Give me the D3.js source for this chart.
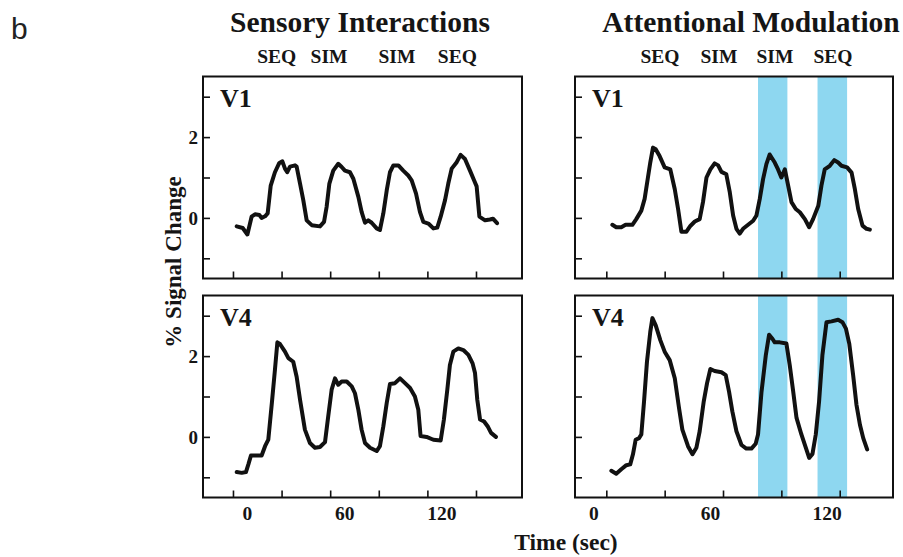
<!DOCTYPE html>
<html>
<head>
<meta charset="utf-8">
<script src="https://cdn.jsdelivr.net/npm/d3@7"></script>
<style>
  html, body { margin: 0; padding: 0; background: #fff; }
  svg { display: block; }
  .serif { font-family: "Liberation Serif", "Times New Roman", serif !important; font-weight: bold; fill: #151515; }
</style>
</head>
<body>
<svg id="fig" width="903" height="557"></svg>
<script>
// ---- data: % signal change over time (sec), [time, value] pairs ----
const sensoryV1 = [
  [2.3,-0.21],[6,-0.25],[8.9,-0.41],[11.5,0.03],[13.6,0.09],[16.3,0.07],[17.7,0],[19.8,0.04],
  [21.4,0.11],[23.3,0.8],[25.9,1.13],[28.6,1.36],[30.5,1.4],[32.1,1.22],[33.5,1.13],[35.2,1.27],
  [38.3,1.3],[39.3,1.27],[41.4,0.85],[43.4,0.44],[45.5,-0.06],[48.6,-0.18],[53.7,-0.21],[56.2,-0.1],
  [57.8,0.27],[59.5,0.85],[61.9,1.17],[65,1.34],[67.1,1.26],[69.1,1.17],[72.2,1.13],[74.3,0.97],
  [77.4,0.52],[79.4,0.15],[81.5,-0.12],[83.5,-0.06],[85.6,-0.12],[88.7,-0.26],[90.7,-0.3],[92.8,0.11],
  [94.9,0.68],[96.9,1.13],[99,1.3],[102.1,1.3],[105.1,1.17],[108.2,1.05],[110.3,0.93],[113,0.6],
  [115.4,0.15],[117.5,-0.1],[120.6,-0.14],[123.7,-0.26],[126.1,-0.24],[128.2,0.03],[130.9,0.44],
  [132.9,0.85],[135,1.22],[138.1,1.38],[140.5,1.56],[143.2,1.46],[146.3,1.17],[148.8,0.93],
  [150.4,0.78],[152.1,0.03],[155.6,-0.06],[158.6,-0.04],[160.5,-0.02],[163,-0.13]
];
const sensoryV4 = [
  [2.3,-0.87],[5.4,-0.89],[8,-0.87],[9.5,-0.68],[11.1,-0.46],[13.6,-0.46],[17.7,-0.46],[19.8,-0.23],
  [21.8,-0.07],[24,0.84],[25.9,1.66],[27.4,2.34],[29,2.3],[32.1,2.11],[34.2,1.95],[37.2,1.86],
  [39.3,1.49],[41.4,0.92],[44.4,0.18],[47.5,-0.15],[50.6,-0.27],[53.7,-0.25],[56.8,-0.13],[58.8,0.51],
  [60.9,1.17],[63,1.45],[65,1.29],[67.1,1.37],[70.2,1.37],[73.3,1.25],[75.3,1.08],[77.4,0.67],
  [79.4,0.18],[81.5,-0.15],[84.6,-0.27],[88.7,-0.35],[90.7,-0.23],[92.8,0.26],[94.9,0.84],[96.9,1.31],
  [100,1.33],[103.1,1.45],[106.2,1.33],[109.3,1.21],[112.3,1.0],[114.4,0.67],[115.8,0.02],[119.5,0],
  [123.7,-0.07],[128.2,-0.09],[130.2,0.43],[132.3,1.17],[133.9,1.78],[136,2.11],[139.1,2.19],
  [142.2,2.15],[145.3,2.03],[147.9,1.82],[149.4,1.58],[150.8,0.92],[152.5,0.43],[155,0.38],
  [157.4,0.25],[159.3,0.1],[162.3,0.0]
];
const attendV1 = [
  [3.1,-0.17],[5.1,-0.23],[7.7,-0.23],[9.9,-0.17],[13.4,-0.17],[15.4,-0.03],[18,0.18],[19.7,0.47],
  [21.4,1.0],[22.6,1.37],[24,1.74],[25.4,1.7],[27.4,1.53],[30,1.25],[32.9,1.2],[35.2,0.71],
  [36.9,0.22],[38.6,-0.34],[41.2,-0.34],[43.2,-0.2],[45.5,-0.09],[48,-0.03],[49.7,0.39],[51.5,1.0],
  [53.5,1.2],[55.7,1.35],[57.5,1.3],[59.2,1.14],[61.7,1.08],[63.5,0.63],[65.2,0.06],[66.9,-0.27],
  [68.6,-0.39],[70.3,-0.27],[72.9,-0.17],[75.5,-0.07],[77.2,0.06],[78.9,0.47],[80.6,0.96],[82.3,1.33],
  [84,1.57],[86.6,1.37],[88.3,1.2],[90,1.0],[91.8,1.2],[93.5,0.8],[95.2,0.39],[97.4,0.22],
  [99.5,0.14],[102.1,-0.03],[104.3,-0.23],[106.3,-0.03],[109,0.3],[110.6,0.8],[112.3,1.2],
  [114.9,1.29],[117.2,1.43],[119.2,1.37],[120.9,1.29],[123.8,1.25],[126.1,1.12],[127.8,0.71],
  [129.5,0.22],[131.7,-0.19],[133.8,-0.27],[135.5,-0.29]
];
const attendV4 = [
  [2.6,-0.84],[5.1,-0.91],[7.7,-0.8],[10.3,-0.7],[12.3,-0.68],[13.7,-0.43],[15.1,-0.07],[16.8,-0.03],
  [18,0.06],[19.4,0.88],[20.9,1.86],[22.6,2.6],[23.7,2.94],[25.4,2.76],[27.8,2.39],[30,2.11],
  [32.6,1.9],[35.2,1.45],[37.4,0.71],[39.1,0.18],[42,-0.23],[44.3,-0.43],[46.3,-0.27],[48,0.14],
  [50.1,0.88],[51.8,1.33],[53.5,1.68],[55.7,1.63],[59.2,1.6],[61.4,1.53],[63.1,1.12],[64.8,0.63],
  [66.9,0.14],[69.5,-0.2],[72,-0.29],[74.6,-0.29],[76.8,-0.17],[78,0.06],[79.8,1.12],[82,2.02],
  [83.7,2.53],[85.4,2.43],[86.6,2.34],[89.2,2.34],[92.6,2.31],[94.3,1.78],[96.1,1.12],[97.8,0.47],
  [100.3,0.06],[102.6,-0.27],[104.3,-0.52],[106,-0.42],[107.7,0.06],[109.4,0.88],[111.1,2.02],
  [113.2,2.84],[115.8,2.86],[119.2,2.9],[121.4,2.84],[123.2,2.68],[124.9,2.31],[126.9,1.53],
  [128.6,0.8],[130.4,0.3],[132.1,-0.03],[134.1,-0.31]
];

// attended stimulus windows (sec), shaded in the attention panels
const attendWindows = [[78, 93.1], [108.6, 123.8]];

// condition labels above each column, placed at their block times (sec)
const conditions = ["SEQ", "SIM", "SIM", "SEQ"];
const sensoryCondTimes = [27, 59.3, 101.2, 138.5];
const attendCondTimes = [27.6, 57.9, 86.7, 116.5];

// axis ticks
const yTicks = [-1, 0, 1, 2, 3];
const yTickLabels = [0, 2];
const sensoryXTicks = [0, 30, 60, 90, 120, 150];
const attendXTicks = [0, 30, 60, 90, 120];
const xTickLabels = [0, 60, 120];

const columnTitles = ["Sensory Interactions", "Attentional Modulation"];
const areaNames = ["V1", "V4"];

// ---- layout ----
const svg = d3.select("#fig");
const rows = [[76.5, 278.5], [295.5, 497.5]];
const cols = [
  { x0: 203, x1: 522, domain: [-18.5, 178.4], ticks: sensoryXTicks, labelShift: 14,
    condTimes: sensoryCondTimes, title: columnTitles[0], titleX: 360, yLabels: true,
    series: [sensoryV1, sensoryV4], bands: [] },
  { x0: 575, x1: 893, domain: [-16.1, 147.4], ticks: attendXTicks, labelShift: -13,
    condTimes: attendCondTimes, title: columnTitles[1], titleX: 751, yLabels: false,
    series: [attendV1, attendV4], bands: attendWindows }
];

const lineColor = "#111";
const bandColor = "#8ed7f0";
const serifFont = "'Liberation Serif', 'Times New Roman', serif";

// panel letter
svg.append("text")
  .attr("x", 11).attr("y", 39)
  .style("font-family", "'Liberation Sans', Arial, sans-serif")
  .style("font-size", "30px").style("fill", "#222")
  .text("b");

cols.forEach((c) => {
  const x = d3.scaleLinear().domain(c.domain).range([c.x0, c.x1]);

  // column title and condition labels
  svg.append("text").attr("class", "serif")
    .attr("x", c.titleX).attr("y", 32).attr("text-anchor", "middle")
    .style("font-size", "29.5px").text(c.title);
  svg.append("g").selectAll("text").data(conditions).join("text")
    .attr("class", "serif")
    .attr("x", (d, i) => x(c.condTimes[i])).attr("y", 63)
    .attr("text-anchor", "middle").style("font-size", "19.5px")
    .text(d => d);

  rows.forEach(([top, bottom], r) => {
    const y = d3.scaleLinear().domain([-1.5, 3.5]).range([bottom, top]);
    const g = svg.append("g");

    // attention bands
    g.selectAll("rect.band").data(c.bands).join("rect")
      .attr("class", "band")
      .attr("x", d => x(d[0])).attr("width", d => x(d[1]) - x(d[0]))
      .attr("y", top).attr("height", bottom - top)
      .attr("fill", bandColor);

    // inward tick marks
    const yAx = g.append("g").attr("transform", `translate(${c.x0},0)`)
      .call(d3.axisLeft(y).tickValues(yTicks).tickSize(-7).tickFormat(""));
    yAx.select(".domain").remove();
    yAx.selectAll("line").attr("stroke", "#111").attr("stroke-width", 1.6);

    const xAx = g.append("g").attr("transform", `translate(0,${bottom})`)
      .call(d3.axisBottom(x).tickValues(c.ticks).tickSize(-7).tickFormat(""));
    xAx.select(".domain").remove();
    xAx.selectAll("line").attr("stroke", "#111").attr("stroke-width", 1.6);

    // y tick labels (first column only)
    if (c.yLabels) {
      const yl = g.append("g").attr("transform", `translate(${c.x0},0)`)
        .call(d3.axisLeft(y).tickValues(yTickLabels).tickSize(0).tickPadding(5)
          .tickFormat(d3.format("d")));
      yl.select(".domain").remove();
      yl.attr("font-family", serifFont).attr("font-size", 19);
      yl.selectAll("text").attr("class", "serif").attr("dy", "0.34em");
    }

    // x tick labels (bottom row only)
    if (r === 1) {
      const xl = g.append("g").attr("transform", `translate(${c.labelShift},${bottom})`)
        .call(d3.axisBottom(x).tickValues(xTickLabels).tickSize(0).tickPadding(9)
          .tickFormat(d3.format("d")));
      xl.select(".domain").remove();
      xl.attr("font-family", serifFont).attr("font-size", 19.5);
      xl.selectAll("text").attr("class", "serif");
    }

    // response time course
    const line = d3.line().x(d => x(d[0])).y(d => y(d[1]));
    g.append("path").datum(c.series[r])
      .attr("d", line).attr("fill", "none")
      .attr("stroke", lineColor).attr("stroke-width", 4)
      .attr("stroke-linejoin", "round").attr("stroke-linecap", "round");

    // frame
    g.append("rect")
      .attr("x", c.x0).attr("y", top)
      .attr("width", c.x1 - c.x0).attr("height", bottom - top)
      .attr("fill", "none").attr("stroke", "#111").attr("stroke-width", 2);

    // area name
    g.append("text").attr("class", "serif")
      .attr("x", c.x0 + 17).attr("y", top + 30)
      .style("font-size", "26px").text(areaNames[r]);
  });
});

// shared axis titles
svg.append("text").attr("class", "serif")
  .attr("transform", "translate(181,262) rotate(-90)")
  .attr("text-anchor", "middle").style("font-size", "23px")
  .text("% Signal Change");

svg.append("text").attr("class", "serif")
  .attr("x", 566).attr("y", 550).attr("text-anchor", "middle")
  .style("font-size", "23.5px").text("Time (sec)");
</script>
</body>
</html>
